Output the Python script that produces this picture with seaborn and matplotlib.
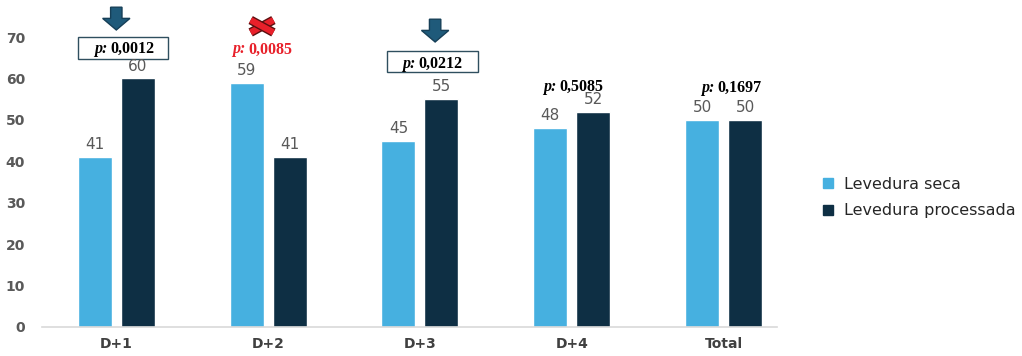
import matplotlib
matplotlib.use("Agg")
import matplotlib.pyplot as plt
import matplotlib.patheffects as pe
from matplotlib.patches import FancyArrow, Rectangle
from matplotlib.lines import Line2D
from matplotlib.offsetbox import TextArea, HPacker, AnnotationBbox
import seaborn as sns
import pandas as pd

# ---- data ----
categories = ["D+1", "D+2", "D+3", "D+4", "Total"]
series_names = ["Levedura seca", "Levedura processada"]
seca = [41, 59, 45, 48, 50]
processada = [60, 41, 55, 52, 50]
p_labels = ["0,0012", "0,0085", "0,0212", "0,5085", "0,1697"]
yticks = [0, 10, 20, 30, 40, 50, 60, 70]

colors = ["#46B0E0", "#0E2F44"]

df = pd.DataFrame({
    "cat": categories * 2,
    "serie": [series_names[0]] * 5 + [series_names[1]] * 5,
    "valor": seca + processada,
})

sns.set_theme(style="white")
plt.rcParams["font.family"] = ["DejaVu Sans"]

fig = plt.figure(figsize=(10.22, 3.56), dpi=100)
ax = fig.add_axes([0.041, 0.0815, 0.719, 0.8145])

sns.barplot(data=df, x="cat", y="valor", hue="serie", order=categories,
            hue_order=series_names, palette=colors, width=0.566, gap=0.21,
            ax=ax, legend=False, saturation=1)

ax.set_ylim(0, 70)
ax.set_xlim(-0.49, 4.35)
ax.set_yticks(yticks)
ax.set_xlabel("")
ax.set_ylabel("")
for s in ["top", "right", "left"]:
    ax.spines[s].set_visible(False)
ax.spines["bottom"].set_color("#D9D9D9")
ax.spines["bottom"].set_linewidth(1.2)
ax.tick_params(axis="both", length=0)
ax.tick_params(axis="y", pad=12)
ax.tick_params(axis="x", pad=7)
for t in ax.get_yticklabels():
    t.set_fontsize(10)
    t.set_color("#595959")
    t.set_fontweight("bold")
for t in ax.get_xticklabels():
    t.set_fontsize(10)
    t.set_color("#404040")
    t.set_fontweight("bold")

# value labels
for cont in ax.containers:
    ax.bar_label(cont, fmt="%.0f", padding=3.5, fontsize=11, color="#595959")

serif = ["Liberation Serif", "DejaVu Serif"]


def ptext(x, y, val, color="black"):
    a = TextArea("p:", textprops=dict(fontsize=11.5, fontweight="bold", fontstyle="italic",
                                      family=serif, color=color))
    b = TextArea(val, textprops=dict(fontsize=11.5, fontweight="bold",
                                     family=serif, color=color))
    pack = HPacker(children=[a, b], align="baseline", pad=0, sep=2)
    ab = AnnotationBbox(pack, (x, y), frameon=False, box_alignment=(0.5, 0.5),
                        annotation_clip=False, pad=0)
    ax.add_artist(ab)


def pbox(x0, x1, y0, y1):
    ax.add_patch(Rectangle((x0, y0), x1 - x0, y1 - y0, fill=False, ec="#2F4F5F",
                           lw=1.0, clip_on=False))


def down_arrow(x, ytop, ybot):
    ar = FancyArrow(x, ytop, 0, ybot - ytop, width=0.075, head_width=0.18,
                    head_length=2.8, length_includes_head=True,
                    fc="#1F5A7A", ec="#163F57", lw=1.0, clip_on=False)
    ax.add_patch(ar)


def red_x(x, y):
    for dy in (1.5, -1.5):
        ax.plot([x - 0.075, x + 0.075], [y - dy, y + dy], color="#E8202A",
                lw=4.5, solid_capstyle="butt", clip_on=False,
                path_effects=[pe.Stroke(linewidth=6.5, foreground="#5A1010"), pe.Normal()])


ptext(0.05, 67.2, p_labels[0])
pbox(-0.25, 0.342, 64.6, 70.0)
down_arrow(0.0, 77.2, 71.7)

ptext(0.96, 67.0, p_labels[1], color="#E8202A")
red_x(0.96, 72.6)

ptext(2.08, 63.6, p_labels[2])
pbox(-0.217 + 2, 0.382 + 2, 61.5, 66.6)
down_arrow(2.1, 74.3, 68.8)

ptext(3.01, 58.0, p_labels[3])
ptext(4.05, 57.8, p_labels[4])

# legend
handles = [Line2D([0], [0], marker="s", linestyle="none", markersize=7,
                  markerfacecolor=c, markeredgecolor=c) for c in colors]
fig.legend(handles, series_names, loc="center left", bbox_to_anchor=(0.788, 0.445),
           frameon=False, fontsize=11.5, handletextpad=0.5, labelspacing=0.7,
           handlelength=1.0, labelcolor="#262626")

fig.savefig("out.png", dpi=100)
